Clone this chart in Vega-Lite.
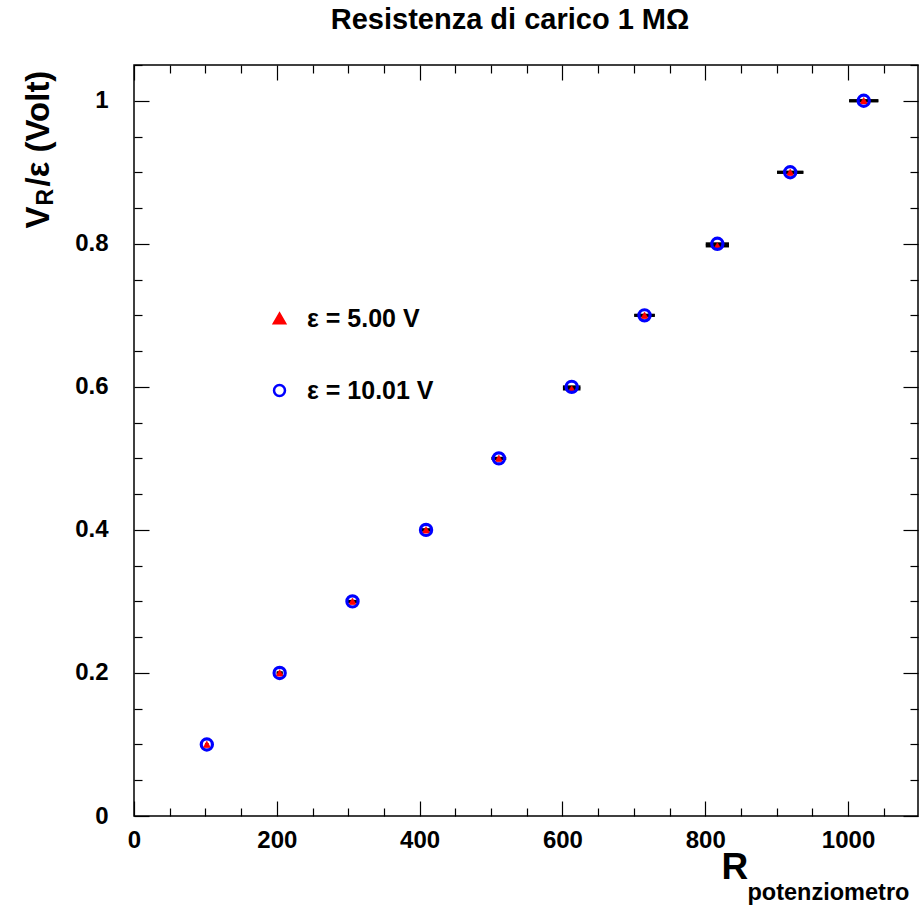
{
  "$schema": "https://vega.github.io/schema/vega-lite/v6.json",
  "width": 784,
  "height": 751,
  "autosize": {"type": "none"},
  "padding": {"left": 134, "top": 65, "right": 1, "bottom": 90},
  "background": "white",
  "title": {"text": "Resistenza di carico 1 MΩ", "anchor": "middle", "frame": "group", "offset": 18, "dx": -16, "font": "Liberation Sans", "fontWeight": "bold", "fontSize": 29, "color": "black"},
  "config": {
    "view": {"stroke": "black", "strokeWidth": 1.5},
    "axis": {"domain": false, "grid": false, "tickColor": "black", "tickWidth": 1.2, "labelColor": "black", "labelFont": "Liberation Sans", "labelFontWeight": "bold", "labelFontSize": 24, "titleColor": "black", "titleFont": "Liberation Sans", "titleFontWeight": "bold", "minExtent": 0},
    "legend": {"orient": "none", "padding": 0, "title": null, "labelFont": "Liberation Sans", "labelFontWeight": "bold", "labelFontSize": 25, "labelColor": "black", "labelOffset": 15, "rowPadding": 46, "symbolSize": 120, "symbolStrokeWidth": 2.5, "symbolOpacity": 1}
  },
  "datasets": {
    "pts": [
      {"R": 102, "y": 0.1, "xlo": 99.96, "xhi": 104.04, "series": "ε = 5.00 V"},
      {"R": 204, "y": 0.2, "xlo": 199.9, "xhi": 208.1, "series": "ε = 5.00 V"},
      {"R": 306, "y": 0.3, "xlo": 299.9, "xhi": 312.1, "series": "ε = 5.00 V"},
      {"R": 409, "y": 0.4, "xlo": 400.8, "xhi": 417.2, "series": "ε = 5.00 V"},
      {"R": 511, "y": 0.5, "xlo": 500.8, "xhi": 521.2, "series": "ε = 5.00 V"},
      {"R": 613, "y": 0.597, "xlo": 600.7, "xhi": 625.3, "series": "ε = 5.00 V"},
      {"R": 715, "y": 0.7, "xlo": 700.7, "xhi": 729.3, "series": "ε = 5.00 V"},
      {"R": 817, "y": 0.797, "xlo": 800.7, "xhi": 833.3, "series": "ε = 5.00 V"},
      {"R": 919, "y": 0.9, "xlo": 900.6, "xhi": 937.4, "series": "ε = 5.00 V"},
      {"R": 1022, "y": 1.0, "xlo": 1001.6, "xhi": 1042.4, "series": "ε = 5.00 V"},
      {"R": 102, "y": 0.1, "xlo": 99.96, "xhi": 104.04, "series": "ε = 10.01 V"},
      {"R": 204, "y": 0.2, "xlo": 199.9, "xhi": 208.1, "series": "ε = 10.01 V"},
      {"R": 306, "y": 0.3, "xlo": 299.9, "xhi": 312.1, "series": "ε = 10.01 V"},
      {"R": 409, "y": 0.4, "xlo": 400.8, "xhi": 417.2, "series": "ε = 10.01 V"},
      {"R": 511, "y": 0.5, "xlo": 500.8, "xhi": 521.2, "series": "ε = 10.01 V"},
      {"R": 613, "y": 0.6, "xlo": 600.7, "xhi": 625.3, "series": "ε = 10.01 V"},
      {"R": 715, "y": 0.7, "xlo": 700.7, "xhi": 729.3, "series": "ε = 10.01 V"},
      {"R": 817, "y": 0.8, "xlo": 800.7, "xhi": 833.3, "series": "ε = 10.01 V"},
      {"R": 919, "y": 0.9, "xlo": 900.6, "xhi": 937.4, "series": "ε = 10.01 V"},
      {"R": 1022, "y": 1.0, "xlo": 1001.6, "xhi": 1042.4, "series": "ε = 10.01 V"}
    ]
  },
  "data": {"name": "pts"},
  "layer": [
    {
      "mark": {"type": "rule", "color": "black", "strokeWidth": 3},
      "encoding": {
        "x": {"field": "xlo", "type": "quantitative", "scale": {"domain": [0, 1098], "nice": false, "zero": false},
          "axis": {"orient": "bottom", "values": [0,50,100,150,200,250,300,350,400,450,500,550,600,650,700,750,800,850,900,950,1000,1050],
            "tickSize": {"condition": {"test": "datum.value % 200 === 0", "value": -15}, "value": -8},
            "labelPadding": 27, "format": "d", "labelExpr": "datum.value % 200 === 0 ? datum.label : ''", "labelFlush": false, "labelOverlap": false,
            "title": "R", "titleFontSize": 37, "titleX": 587, "titleY": 62, "titleAlign": "left", "titleBaseline": "alphabetic"}},
        "x2": {"field": "xhi"},
        "y": {"field": "y", "type": "quantitative", "scale": {"domain": [0, 1.05], "nice": false, "zero": false},
          "axis": {"orient": "left", "values": [0,0.05,0.1,0.15,0.2,0.25,0.3,0.35,0.4,0.45,0.5,0.55,0.6,0.65,0.7,0.75,0.8,0.85,0.9,0.95,1,1.05],
            "tickSize": {"condition": {"test": "abs(datum.value*5 - round(datum.value*5)) < 0.000001", "value": -15}, "value": -8},
            "labelPadding": 41, "format": ".1~f", "labelExpr": "abs(datum.value*5 - round(datum.value*5)) < 0.000001 ? datum.label : ''", "labelFlush": false, "labelOverlap": false,
            "title": "V", "titleFontSize": 33, "titleAngle": -90, "titleX": -86, "titleY": 163, "titleAlign": "left", "titleBaseline": "alphabetic"}}
      }
    },
    {
      "transform": [{"filter": "datum.series === 'ε = 5.00 V'"}],
      "mark": {"type": "point", "size": 60, "strokeWidth": 0.5, "opacity": 1},
      "encoding": {
        "x": {"field": "R", "type": "quantitative", "scale": {"domain": [0, 1098], "nice": false, "zero": false},
          "axis": {"orient": "top", "values": [0,50,100,150,200,250,300,350,400,450,500,550,600,650,700,750,800,850,900,950,1000,1050],
            "tickSize": {"condition": {"test": "datum.value % 200 === 0", "value": -15}, "value": -8},
            "labels": false, "title": "potenziometro", "titleFontSize": 23.5, "titleX": 613, "titleY": 834, "titleAlign": "left", "titleBaseline": "alphabetic"}},
        "y": {"field": "y", "type": "quantitative", "scale": {"domain": [0, 1.05], "nice": false, "zero": false},
          "axis": {"orient": "right", "values": [0,0.05,0.1,0.15,0.2,0.25,0.3,0.35,0.4,0.45,0.5,0.55,0.6,0.65,0.7,0.75,0.8,0.85,0.9,0.95,1,1.05],
            "tickSize": {"condition": {"test": "abs(datum.value*5 - round(datum.value*5)) < 0.000001", "value": -15}, "value": -8},
            "labels": false, "title": "R", "titleFontSize": 23, "titleAngle": -90, "titleX": -866, "titleY": 140, "titleAlign": "left", "titleBaseline": "alphabetic"}},
        "shape": {"field": "series", "type": "nominal", "scale": {"domain": ["ε = 5.00 V", "ε = 10.01 V"], "range": ["triangle-up", "circle"]}, "legend": {"legendX": 133, "legendY": 241}},
        "fill": {"field": "series", "type": "nominal", "scale": {"domain": ["ε = 5.00 V", "ε = 10.01 V"], "range": ["#ff0000", "transparent"]}},
        "stroke": {"field": "series", "type": "nominal", "scale": {"domain": ["ε = 5.00 V", "ε = 10.01 V"], "range": ["#ff0000", "#0000ff"]}}
      }
    },
    {
      "transform": [{"filter": "datum.series === 'ε = 10.01 V'"}],
      "mark": {"type": "point", "size": 125, "strokeWidth": 3.2, "opacity": 1},
      "encoding": {
        "x": {"field": "R", "type": "quantitative", "scale": {"domain": [0, 1098], "nice": false, "zero": false}, "axis": null},
        "y": {"field": "y", "type": "quantitative", "scale": {"domain": [0, 1.05], "nice": false, "zero": false},
          "axis": {"orient": "left", "ticks": false, "labels": false, "title": "/ε (Volt)", "titleFontSize": 33, "titleAngle": -90, "titleX": -86, "titleY": 121, "titleAlign": "left", "titleBaseline": "alphabetic"}},
        "shape": {"field": "series", "type": "nominal", "scale": {"domain": ["ε = 5.00 V", "ε = 10.01 V"], "range": ["triangle-up", "circle"]}},
        "fill": {"field": "series", "type": "nominal", "scale": {"domain": ["ε = 5.00 V", "ε = 10.01 V"], "range": ["#ff0000", "transparent"]}},
        "stroke": {"field": "series", "type": "nominal", "scale": {"domain": ["ε = 5.00 V", "ε = 10.01 V"], "range": ["#ff0000", "#0000ff"]}}
      }
    }
  ],
  "resolve": {"scale": {"x": "independent", "y": "independent"}}
}
